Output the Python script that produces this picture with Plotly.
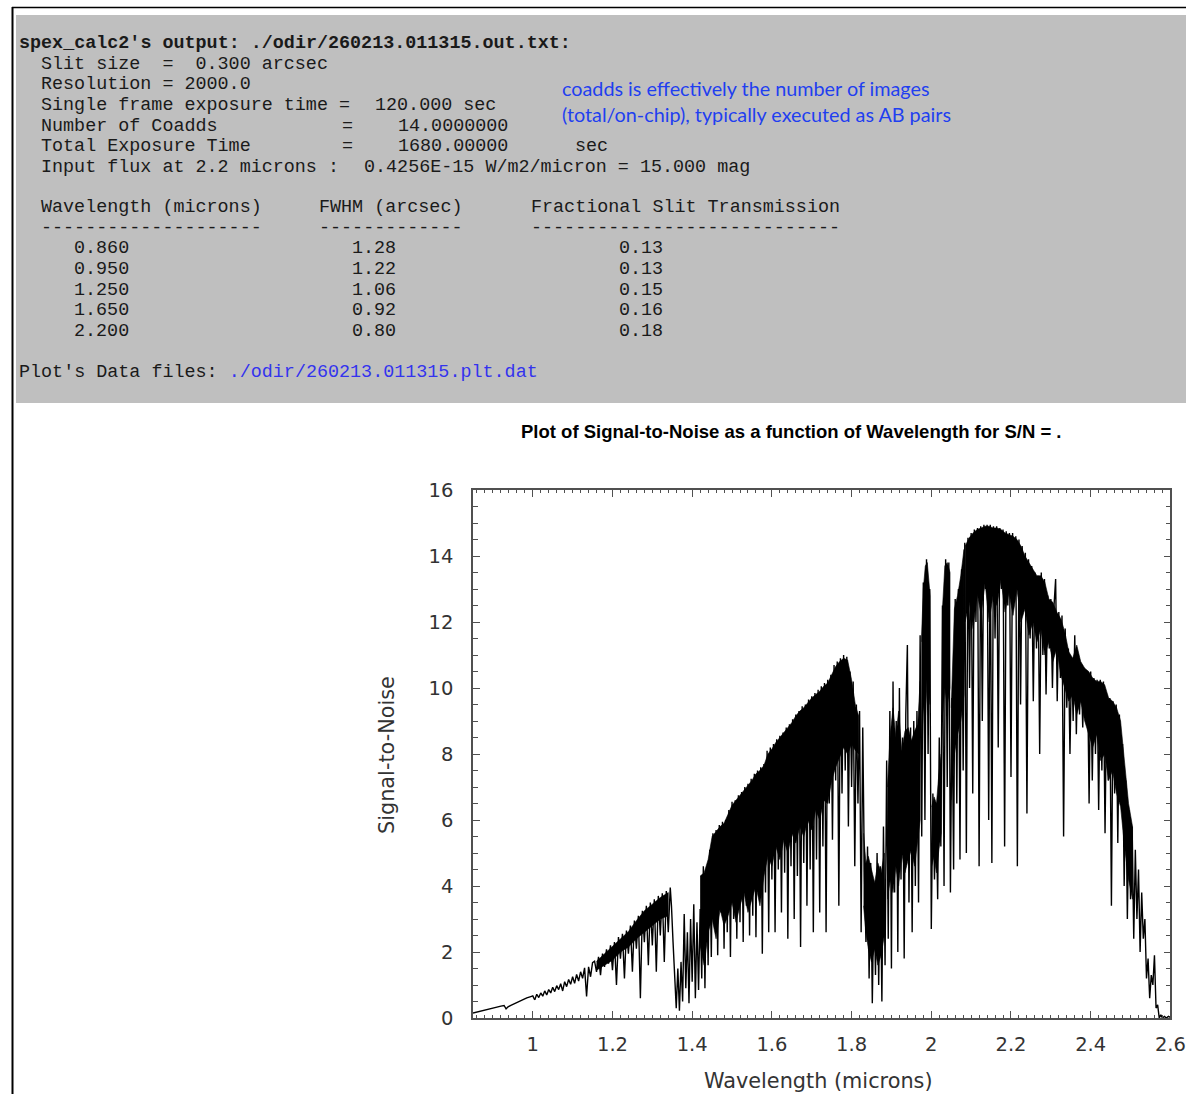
import plotly.graph_objects as go

# ---------------- data ----------------
wl_a = [0.850, 0.865, 0.880, 0.895, 0.910, 0.920, 0.928, 0.933, 0.938, 0.945, 0.955, 0.965, 0.975, 0.985, 0.995, 1.000]
sn_a = [0.15, 0.19, 0.24, 0.28, 0.33, 0.36, 0.38, 0.28, 0.34, 0.38, 0.44, 0.50, 0.56, 0.61, 0.65, 0.67]

wl_b = [1.005, 1.010, 1.015, 1.020, 1.025, 1.030, 1.035, 1.040, 1.045, 1.050, 1.055, 1.060, 1.065, 1.070,
        1.075, 1.080, 1.085, 1.090, 1.095, 1.100, 1.105, 1.110, 1.115, 1.120, 1.125, 1.130, 1.135, 1.140,
        1.145, 1.150]
sn_b = [0.55, 0.72, 0.62, 0.76, 0.66, 0.82, 0.70, 0.86, 0.76, 0.93, 0.80, 0.98, 0.86, 1.04,
        0.82, 1.10, 0.95, 1.17, 1.02, 1.25, 1.05, 1.32, 1.12, 1.40, 1.20, 1.52, 0.65, 1.55,
        1.25, 1.68]

wl_c = [1.155, 1.160, 1.165, 1.170, 1.175, 1.180, 1.185, 1.190, 1.195, 1.200, 1.205, 1.210, 1.215, 1.220,
        1.225, 1.230, 1.235, 1.240, 1.245, 1.250, 1.255, 1.260, 1.265, 1.270, 1.275, 1.280, 1.285, 1.290,
        1.295, 1.300, 1.305, 1.310, 1.315, 1.320, 1.325, 1.330, 1.335, 1.340, 1.345]
sn_c = [1.72, 1.40, 1.85, 1.30, 1.95, 1.55, 2.08, 1.65, 2.20, 1.45, 2.30, 1.00, 2.45, 1.80,
        2.55, 1.20, 2.65, 1.95, 2.80, 1.40, 2.95, 2.10, 3.10, 0.60, 3.25, 2.30, 3.40, 1.60,
        3.50, 2.20, 3.60, 1.40, 3.70, 2.50, 3.78, 1.70, 3.85, 2.60, 3.95]

wl_d = [1.348, 1.352, 1.356, 1.360, 1.364, 1.368, 1.372, 1.376, 1.380, 1.384, 1.388, 1.392, 1.396, 1.400,
        1.404, 1.408, 1.412, 1.416, 1.420, 1.424, 1.428, 1.432, 1.436, 1.440, 1.444, 1.448]
sn_d = [3.40, 2.30, 1.20, 0.30, 1.50, 0.22, 1.70, 0.50, 3.15, 0.90, 2.60, 0.45, 3.00, 1.10,
        3.45, 0.60, 2.90, 0.85, 3.30, 1.20, 4.60, 0.90, 4.50, 1.60, 5.10, 1.85]

wl_e = [1.452, 1.456, 1.460, 1.464, 1.468, 1.472, 1.476, 1.480, 1.484, 1.488, 1.492, 1.496, 1.500, 1.504,
        1.508, 1.512, 1.516, 1.520, 1.524, 1.528, 1.532, 1.536, 1.540, 1.544, 1.548, 1.552, 1.556, 1.560,
        1.564, 1.568, 1.572, 1.576, 1.580, 1.584, 1.588, 1.592]
sn_e = [5.60, 2.80, 5.70, 1.90, 5.85, 3.20, 5.95, 2.10, 6.00, 2.60, 6.30, 1.85, 6.55, 3.00,
        6.60, 2.40, 6.75, 2.90, 6.85, 2.30, 7.00, 3.40, 7.10, 2.50, 7.25, 3.10, 7.40, 2.45,
        7.50, 4.00, 7.60, 1.95, 7.70, 3.80, 8.10, 2.60]

wl_f = [1.596, 1.600, 1.604, 1.608, 1.612, 1.616, 1.620, 1.624, 1.628, 1.632, 1.636, 1.640, 1.644, 1.648,
        1.652, 1.656, 1.660, 1.664, 1.668, 1.672, 1.676, 1.680, 1.684, 1.688, 1.692, 1.696, 1.700, 1.704,
        1.708, 1.712, 1.716, 1.720, 1.724, 1.728, 1.732, 1.736, 1.740]
sn_f = [8.20, 4.20, 8.30, 2.60, 8.45, 4.50, 8.55, 3.20, 8.65, 4.40, 8.80, 2.40, 8.90, 4.60,
        9.05, 3.00, 9.20, 4.30, 9.30, 2.15, 9.45, 4.70, 9.50, 3.40, 9.65, 4.50, 9.75, 2.60,
        9.85, 4.80, 9.95, 3.20, 10.05, 5.20, 10.15, 2.60, 10.25]

wl_g = [1.744, 1.748, 1.752, 1.756, 1.760, 1.764, 1.768, 1.772, 1.776, 1.780, 1.784, 1.788, 1.792, 1.796,
        1.800, 1.804, 1.808, 1.812, 1.816, 1.820, 1.824, 1.828]
sn_g = [6.50, 10.40, 5.40, 10.70, 7.20, 10.80, 3.40, 10.90, 6.80, 11.00, 7.50, 10.95, 5.80, 10.50,
        7.00, 10.20, 4.60, 9.50, 6.50, 9.30, 2.60, 8.80]

wl_h = [1.832, 1.836, 1.840, 1.844, 1.848, 1.852, 1.856, 1.860, 1.864, 1.868, 1.872, 1.876, 1.880, 1.884]
sn_h = [4.50, 2.30, 5.20, 1.20, 4.70, 0.45, 3.80, 1.30, 5.00, 1.00, 4.60, 0.50, 5.80, 1.60]

wl_i = [1.888, 1.892, 1.896, 1.900, 1.904, 1.908, 1.912, 1.916, 1.920, 1.924, 1.928, 1.932, 1.936, 1.940,
        1.944, 1.948, 1.952, 1.956, 1.960, 1.964, 1.968, 1.972]
sn_i = [7.80, 2.40, 9.30, 1.50, 10.20, 3.80, 9.00, 2.00, 10.00, 4.20, 8.50, 1.80, 9.20, 11.30,
        3.50, 8.80, 2.60, 9.00, 4.00, 9.30, 3.50, 11.60]

wl_j = [1.976, 1.980, 1.984, 1.988, 1.992, 1.996, 2.000, 2.004, 2.008, 2.012, 2.016, 2.020, 2.024, 2.028,
        2.032, 2.036, 2.040, 2.044, 2.048, 2.052, 2.056, 2.060, 2.064, 2.068, 2.072, 2.076, 2.080, 2.084]
sn_j = [5.50, 13.20, 6.00, 13.90, 8.00, 13.00, 2.70, 6.80, 4.20, 6.50, 3.60, 8.50, 5.20, 12.50,
        4.00, 13.90, 7.00, 13.80, 3.80, 9.70, 4.50, 12.70, 6.50, 13.00, 4.80, 13.60, 7.50, 14.40]

wl_k = [2.088, 2.092, 2.096, 2.100, 2.104, 2.108, 2.112, 2.116, 2.120, 2.124, 2.128, 2.132, 2.136, 2.140,
        2.144, 2.148, 2.152, 2.156, 2.160, 2.164, 2.168, 2.172, 2.176, 2.180, 2.184, 2.188, 2.192, 2.196,
        2.200, 2.204, 2.208, 2.212, 2.216, 2.220, 2.224, 2.228, 2.232, 2.236, 2.240, 2.244]
sn_k = [5.00, 14.55, 10.00, 14.70, 6.80, 14.80, 12.00, 14.85, 4.60, 14.90, 9.00, 14.95, 13.00, 14.95,
        6.00, 14.95, 4.70, 14.90, 11.50, 14.90, 8.20, 14.85, 13.00, 14.80, 5.20, 14.75, 12.50, 14.70,
        7.30, 14.70, 12.80, 14.60, 4.60, 14.50, 9.50, 14.30, 12.80, 14.10, 6.20, 13.90]

wl_l = [2.248, 2.252, 2.256, 2.260, 2.264, 2.268, 2.272, 2.276, 2.280, 2.284, 2.288, 2.292, 2.296, 2.300,
        2.304, 2.308, 2.312, 2.316, 2.320, 2.324, 2.328, 2.332, 2.336, 2.340, 2.344, 2.348, 2.352, 2.356,
        2.360, 2.364, 2.368, 2.372, 2.376, 2.380, 2.384, 2.388, 2.392, 2.396, 2.400]
sn_l = [11.50, 13.70, 9.60, 13.50, 11.20, 13.40, 8.00, 13.50, 11.00, 13.30, 9.80, 12.80, 11.20, 12.70,
        10.00, 12.50, 13.30, 9.60, 12.30, 10.30, 12.20, 5.50, 11.80, 9.40, 11.20, 8.00, 10.90, 9.00,
        11.60, 8.60, 11.00, 9.20, 10.70, 8.80, 10.60, 9.20, 10.50, 6.50, 10.50]

wl_m = [2.404, 2.408, 2.412, 2.416, 2.420, 2.424, 2.428, 2.432, 2.436, 2.440, 2.444, 2.448, 2.452, 2.456,
        2.460, 2.464, 2.468, 2.472, 2.476, 2.480, 2.484, 2.488, 2.492, 2.496, 2.500, 2.504, 2.508, 2.512,
        2.516, 2.520, 2.524, 2.528, 2.532, 2.536, 2.540, 2.544, 2.548, 2.552, 2.556, 2.560, 2.564, 2.568,
        2.572, 2.576, 2.580, 2.585, 2.590, 2.595, 2.600]
sn_m = [7.20, 10.30, 8.00, 10.25, 6.30, 10.25, 7.50, 10.20, 5.60, 9.80, 7.20, 9.70, 3.40, 9.60,
        6.80, 9.50, 5.30, 9.20, 7.00, 8.30, 4.00, 7.20, 3.00, 6.30, 3.60, 5.80, 2.40, 5.10,
        3.00, 4.50, 2.00, 3.80, 2.40, 3.00, 1.20, 1.80, 0.60, 1.30, 1.00, 1.90, 0.30, 0.40,
        0.00, 0.10, 0.00, 0.05, 0.00, 0.05, 0.02]

# solid-black cores of the absorption-line forest (upper and lower edge of each dense patch)
core1_wl = [1.160, 1.180, 1.200, 1.220, 1.240, 1.260, 1.280, 1.300, 1.320, 1.340]
core1_top = [1.72, 1.95, 2.15, 2.40, 2.62, 2.95, 3.25, 3.45, 3.65, 3.80]
core1_low = [1.45, 1.60, 1.75, 2.00, 2.15, 2.40, 2.60, 2.80, 3.00, 3.10]

core2_wl = [1.420, 1.430, 1.440, 1.450, 1.460, 1.470, 1.480, 1.490, 1.500, 1.510, 1.520, 1.530, 1.540,
            1.550, 1.560, 1.570, 1.580, 1.590, 1.600, 1.610, 1.620, 1.630, 1.640, 1.650, 1.660, 1.670,
            1.680, 1.690, 1.700, 1.710, 1.720, 1.730, 1.740, 1.750, 1.760, 1.770, 1.780, 1.790, 1.800,
            1.810, 1.818]
core2_top = [4.30, 4.40, 4.80, 5.50, 5.65, 5.80, 5.90, 6.15, 6.45, 6.60, 6.75, 6.90, 7.05,
             7.20, 7.40, 7.50, 7.65, 8.00, 8.15, 8.35, 8.50, 8.65, 8.80, 8.95, 9.15, 9.30,
             9.40, 9.55, 9.70, 9.80, 9.90, 10.05, 10.15, 10.40, 10.65, 10.80, 10.90, 10.85, 10.25,
             9.45, 9.15]
core2_low = [2.20, 1.60, 2.60, 3.00, 2.40, 3.30, 2.80, 3.10, 3.50, 2.90, 3.40, 3.80, 3.20,
             3.60, 4.00, 3.40, 4.30, 4.90, 4.60, 5.20, 4.80, 5.40, 5.00, 5.60, 5.30, 5.80,
             5.50, 6.00, 5.70, 6.30, 6.00, 6.60, 6.50, 7.20, 7.60, 7.90, 8.20, 8.00, 8.30,
             8.10, 8.00]

core_trough_wl = [1.830, 1.836, 1.842, 1.850, 1.858, 1.866, 1.874, 1.882]
core_trough_top = [5.60, 4.70, 4.90, 4.50, 4.10, 4.70, 4.40, 5.00]
core_trough_low = [3.40, 2.60, 2.10, 1.70, 2.10, 1.60, 1.90, 2.50]

core_rise_wl = [1.890, 1.897, 1.904, 1.911, 1.918, 1.926, 1.934, 1.942, 1.950, 1.958, 1.966, 1.972]
core_rise_top = [7.00, 8.60, 9.40, 8.50, 9.30, 8.10, 8.70, 8.80, 8.40, 8.70, 8.90, 10.20]
core_rise_low = [3.60, 4.20, 3.80, 4.60, 4.00, 5.00, 4.40, 4.80, 5.10, 4.60, 5.40, 6.00]

core3_wl = [1.975, 1.980, 1.985, 1.990, 1.997]
core3_top = [11.40, 13.00, 13.70, 13.80, 12.80]
core3_low = [8.00, 9.50, 9.00, 10.50, 9.50]

core_dip_wl = [2.001, 2.007, 2.013, 2.019, 2.025]
core_dip_top = [6.40, 6.70, 6.50, 7.40, 8.00]
core_dip_low = [4.60, 4.90, 4.40, 5.10, 5.60]

core4_wl = [2.028, 2.034, 2.040, 2.047]
core4_top = [12.40, 13.70, 13.80, 13.50]
core4_low = [9.00, 10.00, 9.50, 10.00]

core_step_wl = [2.050, 2.058, 2.066, 2.074, 2.082]
core_step_top = [9.40, 12.40, 12.80, 13.40, 14.20]
core_step_low = [6.60, 8.00, 8.60, 9.00, 9.80]

core5_wl = [2.085, 2.095, 2.105, 2.115, 2.125, 2.135, 2.145, 2.155, 2.165, 2.175, 2.185, 2.195, 2.205,
            2.215, 2.225, 2.235, 2.245, 2.255, 2.265, 2.275, 2.285, 2.295, 2.305, 2.315, 2.325, 2.335,
            2.345, 2.355, 2.365, 2.375, 2.385, 2.395, 2.405, 2.415, 2.425, 2.435, 2.445, 2.455, 2.465,
            2.475, 2.485, 2.495, 2.505]
core5_top = [14.30, 14.55, 14.70, 14.80, 14.85, 14.90, 14.90, 14.85, 14.85, 14.80, 14.70, 14.65, 14.60,
             14.50, 14.30, 14.00, 13.80, 13.60, 13.40, 13.40, 13.20, 12.70, 12.60, 12.30, 12.10, 11.70,
             11.10, 10.90, 11.30, 10.80, 10.60, 10.50, 10.30, 10.20, 10.20, 10.10, 9.70, 9.60, 9.40,
             9.00, 7.80, 6.50, 5.80]
core5_low = [12.00, 12.60, 11.80, 12.90, 12.20, 13.20, 12.00, 12.80, 12.50, 13.30, 12.30, 12.90, 12.20,
             13.00, 12.00, 12.40, 11.60, 12.00, 11.40, 11.80, 11.00, 11.40, 10.80, 11.20, 10.40, 10.00,
             9.60, 9.80, 9.20, 9.60, 9.00, 8.60, 8.20, 8.60, 7.80, 8.00, 7.20, 7.50, 6.80,
             6.40, 5.20, 4.20, 3.60]

x_tick_vals = [1.0, 1.2, 1.4, 1.6, 1.8, 2.0, 2.2, 2.4, 2.6]
x_tick_text = ["1", "1.2", "1.4", "1.6", "1.8", "2", "2.2", "2.4", "2.6"]
y_tick_vals = [0, 2, 4, 6, 8, 10, 12, 14, 16]
y_tick_text = ["0", "2", "4", "6", "8", "10", "12", "14", "16"]

# text of the page (output listing)
info_title = "spex_calc2's output: ./odir/260213.011315.out.txt:"
info_labels = ["Slit size  =  0.300 arcsec", "Resolution = 2000.0", "Single frame exposure time =",
               "Number of Coadds", "Total Exposure Time", "Input flux at 2.2 microns :"]
info_equals = ["", "", "", "=", "=", ""]
info_values = ["", "", "120.000 sec", "14.0000000", "1680.00000", "0.4256E-15 W/m2/micron = 15.000 mag"]
info_units = ["", "", "", "", "sec", ""]
table_headers = ["Wavelength (microns)", "FWHM (arcsec)", "Fractional Slit Transmission"]
table_wavelengths = ["0.860", "0.950", "1.250", "1.650", "2.200"]
table_fwhm = ["1.28", "1.22", "1.06", "0.92", "0.80"]
table_trans = ["0.13", "0.13", "0.15", "0.16", "0.18"]
data_file_label = "Plot's Data files: "
data_file_link = "./odir/260213.011315.plt.dat"
note_lines = ["coadds is effectively the number of images",
              "(total/on-chip), typically executed as AB pairs"]
plot_title = "Plot of Signal-to-Noise as a function of Wavelength for S/N = ."
x_title = "Wavelength (microns)"
y_title = "Signal-to-Noise"

# ---------------- figure ----------------
W, H = 1186, 1094


def px(x):
    return x / W


def py(y):
    return 1 - y / H


def nb(s):
    return s.replace(" ", "\u00a0")


fig = go.Figure()
# solid cores of the spectrum (closed polygons: upper edge forward, lower edge back)
cores = [(core1_wl, core1_top, core1_low), (core2_wl, core2_top, core2_low),
         (core_trough_wl, core_trough_top, core_trough_low), (core_rise_wl, core_rise_top, core_rise_low),
         (core3_wl, core3_top, core3_low), (core_dip_wl, core_dip_top, core_dip_low),
         (core4_wl, core4_top, core4_low), (core_step_wl, core_step_top, core_step_low),
         (core5_wl, core5_top, core5_low)]
for cw, ct, cl in cores:
    fig.add_trace(go.Scatter(x=cw + cw[::-1], y=ct + cl[::-1], mode="lines", fill="toself",
                             fillcolor="black", line=dict(width=0.6, color="black"), hoverinfo="skip"))
# spectrum line
fig.add_trace(go.Scatter(x=wl_a + wl_b[:1], y=sn_a + sn_b[:1], mode="lines",
                         line=dict(color="black", width=1.4), hoverinfo="skip"))
fig.add_trace(go.Scatter(x=wl_b + wl_c + wl_d + wl_e + wl_f + wl_g + wl_h + wl_i + wl_j + wl_k + wl_l + wl_m,
                         y=sn_b + sn_c + sn_d + sn_e + sn_f + sn_g + sn_h + sn_i + sn_j + sn_k + sn_l + sn_m,
                         mode="lines", line=dict(color="black", width=1.4), hoverinfo="skip"))

shapes = [
    dict(type="rect", xref="paper", yref="paper", x0=px(16), x1=1.0, y0=py(403), y1=py(15),
         fillcolor="#bfbfbf", line=dict(width=0), layer="below"),
    dict(type="line", xref="paper", yref="paper", x0=px(12.5), x1=px(12.5), y0=0, y1=py(7),
         line=dict(color="black", width=2)),
    dict(type="line", xref="paper", yref="paper", x0=px(12), x1=1.0, y0=py(7.5), y1=py(7.5),
         line=dict(color="black", width=1.5)),
]

mono = "Liberation Mono"
mono_size = 18.4
text_col = "#1a1a1a"
annotations = []


def add_text(s, x, y, size=mono_size, family=mono, color=text_col, bold=False):
    if not s:
        return
    t = nb(s)
    if bold:
        t = "<b>" + t + "</b>"
    annotations.append(dict(text=t, x=px(x), y=py(y), xref="paper", yref="paper",
                            xanchor="left", yanchor="middle", showarrow=False,
                            font=dict(family=family, size=size, color=color)))


step = 20.5
add_text(info_title, 17, 44, size=18.4, bold=True)
for i in range(len(info_labels)):
    yy = 44 + step * (i + 1)
    add_text(info_labels[i], 39, yy)
    add_text(info_equals[i], 340, yy)
    vx = 373 if i == 2 else (362 if i == 5 else 396)
    add_text(info_values[i], vx, yy)
    add_text(info_units[i], 573, yy)

col_x = [39, 317, 529]
for j, h in enumerate(table_headers):
    add_text(h, col_x[j], 208)
    add_text("-" * len(h), col_x[j], 228)
for i in range(len(table_wavelengths)):
    yy = 249 + step * i
    add_text(table_wavelengths[i], 72, yy)
    add_text(table_fwhm[i], 350, yy)
    add_text(table_trans[i], 617, yy)
annotations.append(dict(
    text=nb(data_file_label) + "<span style='color:#3333ee'>" + data_file_link + "</span>",
    x=px(17), y=py(372), xref="paper", yref="paper", xanchor="left", yanchor="middle",
    showarrow=False, font=dict(family=mono, size=mono_size, color=text_col)))
for i, s in enumerate(note_lines):
    annotations.append(dict(text=s, x=px(560), y=py(88 + 25.5 * i), xref="paper", yref="paper",
                            xanchor="left", yanchor="middle", showarrow=False,
                            font=dict(family="Lato", size=19.8, color="#1f3ff0")))

annotations.append(dict(text="<b>" + plot_title + "</b>", x=px(791), y=py(432), xref="paper", yref="paper",
                        xanchor="center", yanchor="middle", showarrow=False,
                        font=dict(family="Liberation Sans", size=18.5, color="black")))
annotations.append(dict(text=x_title, x=px(818), y=py(1081), xref="paper", yref="paper",
                        xanchor="center", yanchor="middle", showarrow=False,
                        font=dict(family="DejaVu Sans", size=20.8, color="#333333")))
annotations.append(dict(text=y_title, x=px(387), y=py(755), xref="paper", yref="paper",
                        xanchor="center", yanchor="middle", showarrow=False, textangle=-90,
                        font=dict(family="DejaVu Sans", size=20.8, color="#333333")))

axis_col = "#505050"
tickfont = dict(family="DejaVu Sans", size=19.5, color="#333333")
fig.update_layout(
    width=W, height=H, margin=dict(l=0, r=0, t=0, b=0, pad=0, autoexpand=False),
    paper_bgcolor="white", plot_bgcolor="white", showlegend=False,
    shapes=shapes, annotations=annotations,
    xaxis=dict(domain=[px(473), px(1170.4)], range=[0.85, 2.6], automargin=False,
               tickmode="array", tickvals=x_tick_vals, ticktext=x_tick_text,
               ticks="inside", ticklen=7, tickwidth=1, tickcolor=axis_col,
               showline=True, linecolor=axis_col, linewidth=1.5, mirror="allticks",
               showgrid=False, zeroline=False, tickfont=tickfont, ticklabelstandoff=8,
               ticklabeloverflow="allow",
               minor=dict(tickmode="linear", tick0=0, dtick=0.02, ticks="inside", ticklen=3.5,
                          tickcolor=axis_col, showgrid=False)),
    yaxis=dict(domain=[py(1018), py(490)], range=[0, 16], automargin=False,
               tickmode="array", tickvals=y_tick_vals, ticktext=y_tick_text,
               ticks="inside", ticklen=7, tickwidth=1, tickcolor=axis_col,
               showline=True, linecolor=axis_col, linewidth=1.5, mirror="allticks",
               showgrid=False, zeroline=False, tickfont=tickfont, ticklabelstandoff=14,
               ticklabeloverflow="allow",
               minor=dict(tickmode="linear", tick0=0, dtick=0.5, ticks="inside", ticklen=5,
                          tickcolor=axis_col, showgrid=False)),
)

# place the figure flush with the top-left corner of the page (no default body margin)
pin_script = ("document.documentElement.style.margin='0';document.body.style.margin='0';"
              "document.body.style.padding='0';document.body.style.overflow='hidden';"
              "var g=document.getElementById('{plot_id}');g.style.position='absolute';"
              "g.style.left='0px';g.style.top='0px';")
fig.write_html("out.html", post_script=pin_script, config={"displayModeBar": False})
